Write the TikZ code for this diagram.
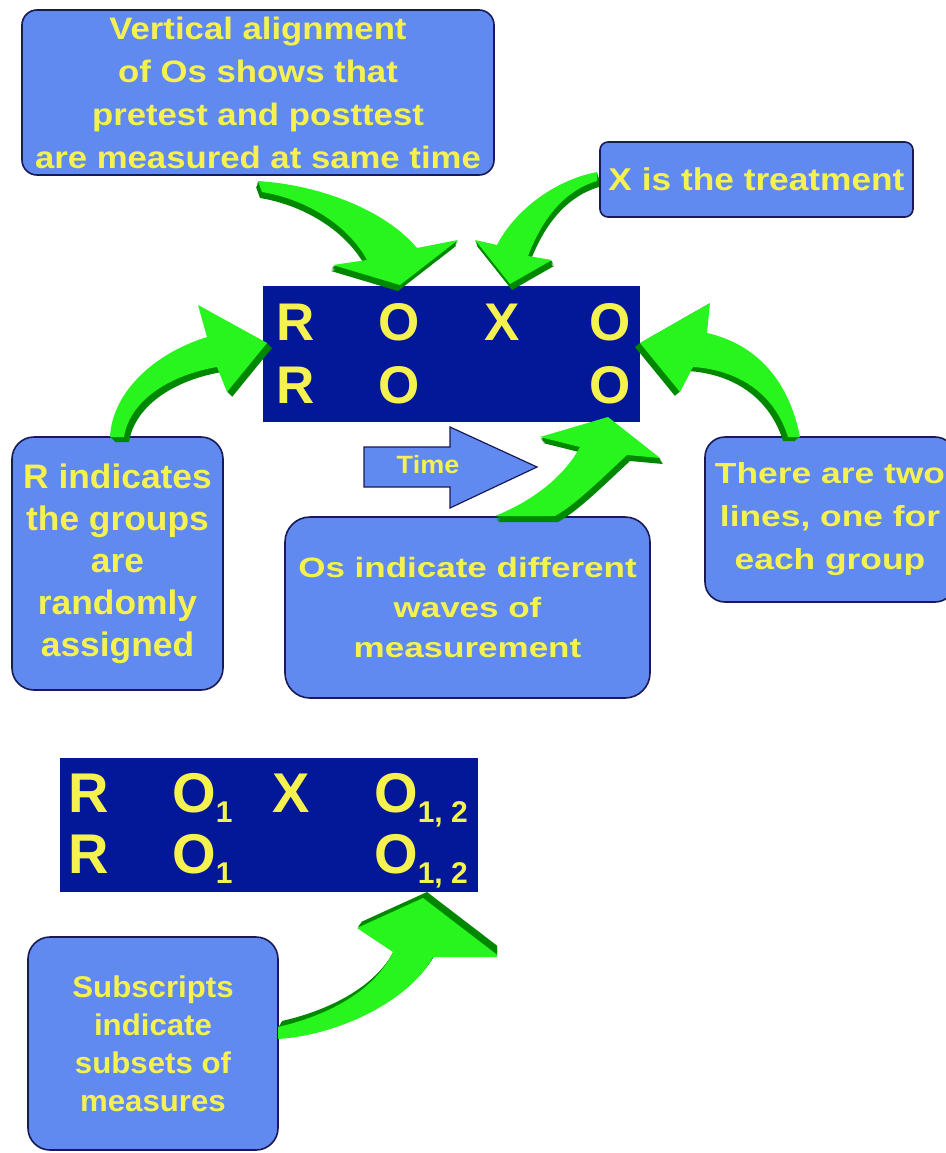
\documentclass[tikz,border=0pt]{standalone}
\usepackage{fontspec}
\setmainfont{Liberation Sans}
\newfontfamily\fTop{Liberation Sans}[FakeStretch=1.12]
\newfontfamily\fLeft{Liberation Sans}[FakeStretch=1.04]
\newfontfamily\fMid{Liberation Sans}[FakeStretch=1.25]
\newfontfamily\fRight{Liberation Sans}[FakeStretch=1.22]
\newfontfamily\fSub{Liberation Sans}[FakeStretch=1.04]
\newfontfamily\fTime{Liberation Sans}[FakeStretch=1.08]

\definecolor{boxfill}{RGB}{96,138,240}
\definecolor{boxline}{RGB}{25,25,85}
\definecolor{navy}{RGB}{3,24,152}
\definecolor{txt}{RGB}{245,242,80}
\definecolor{glight}{RGB}{40,245,30}
\definecolor{gdark}{RGB}{0,135,0}

% curved green block arrow with a dark extruded side
% #1,#2: direction of the extrusion, #3: outline of the arrow
\newcommand\bentarrow[3]{%
  \foreach \k in {0.2,0.4,0.6,0.8,1}{%
    \fill[gdark, shift={({\k*(#1)},{\k*(#2)})}] #3;}%
  \fill[glight] #3;}

\tikzset{
  callout/.style={draw=boxline, line width=1.6pt, fill=boxfill,
    rounded corners=#1, inner sep=0pt, text=txt, align=center},
  callout/.default=15pt,
  grid/.style={fill=navy, inner sep=0pt},
  letter/.style={text=txt, inner sep=0pt,
    font={\bfseries\fontsize{53pt}{53pt}\selectfont}},
  letterb/.style={text=txt, inner sep=0pt, anchor=base west,
    font={\bfseries\fontsize{56pt}{56pt}\selectfont}},
}
\newcommand\sub[1]{\raisebox{-10pt}{\fontsize{30pt}{30pt}\selectfont #1}}

\begin{document}
\begin{tikzpicture}[x=1pt,y=-1pt]
\useasboundingbox (0,0) rectangle (945,1153);
\fill[white] (0,0) rectangle (945,1153);

% ---------- upper design ----------
\node[grid, minimum width=377pt, minimum height=136pt] (design) at (451.5,354) {};
\node[letter, anchor=base] (r1) at (296,340) {R};
\node[letter, anchor=base] (o1) at (399,340) {O};
\node[letter, anchor=base] (x1) at (502,340) {X};
\node[letter, anchor=base] (o2) at (610,340) {O};
\node[letter, anchor=base] (r2) at (296,403) {R};
\node[letter, anchor=base] (o3) at (399,403) {O};
\node[letter, anchor=base] (o4) at (610,403) {O};

% ---------- callouts ----------
\node[callout=15pt, minimum width=472pt, minimum height=165pt,
  font={\fTop\bfseries\fontsize{31pt}{43pt}\selectfont}] (vert) at (258,92.5)
  {Vertical alignment\\of Os shows that\\pretest and posttest\\are measured at same time};

\node[callout=8pt, minimum width=313pt, minimum height=75pt,
  font={\fTop\bfseries\fontsize{31.5pt}{40pt}\selectfont}] (treat) at (756.5,179.5)
  {X is the treatment};

\node[callout=22pt, minimum width=211pt, minimum height=253pt,
  font={\fLeft\bfseries\fontsize{34pt}{42pt}\selectfont}] (rand) at (117.5,563.5)
  {R indicates\\the groups\\are\\randomly\\assigned};

\node[callout=25pt, minimum width=365pt, minimum height=181pt,
  font={\fMid\bfseries\fontsize{28pt}{40pt}\selectfont}] (waves) at (467.5,607.5)
  {Os indicate different\\waves of\\measurement};

\node[callout=20pt, minimum width=250pt, minimum height=165pt,
  font={\fRight\bfseries\fontsize{29pt}{43pt}\selectfont}] (lines) at (830,519.5)
  {There are two\\lines, one for\\each group};

% ---------- time arrow ----------
\draw[fill=boxfill, draw=boxline, line width=1.2pt]
  (364,447) -- (450,447) -- (450,427) -- (537,467) -- (450,508)
  -- (450,487) -- (364,487) -- cycle;
\node[text=txt, inner sep=0pt, font={\fTime\bfseries\fontsize{25pt}{25pt}\selectfont}]
  (time) at (428,465) {Time};

% ---------- green arrows ----------
% alignment callout -> pretest column
\bentarrow{-2}{6}{(258,181) .. controls (320,185) and (385,210) .. (417,248)
  -- (458,240) -- (400,285) -- (333,265) -- (367,260)
  .. controls (350,228) and (310,200) .. (262,192) -- cycle}
% treatment callout -> X
\bentarrow{2}{6}{(597,172) .. controls (555,180) and (515,210) .. (497,245)
  -- (475,240) -- (510,284) -- (552,260) -- (528,256)
  .. controls (540,225) and (560,192) .. (597,181) -- cycle}
% random assignment callout -> R
\bentarrow{5}{5}{(110,437) .. controls (112,395) and (150,355) .. (207,337)
  -- (198,305) -- (267,343) -- (227,392) -- (217,367)
  .. controls (170,375) and (130,400) .. (124,437) -- cycle}
% two lines callout -> right edge
\bentarrow{-5}{4}{(800,437) .. controls (790,385) and (760,345) .. (707,333)
  -- (710,303) -- (640,343) -- (680,392) -- (693,367)
  .. controls (740,370) and (775,395) .. (788,437) -- cycle}
% waves callout -> posttest column
\bentarrow{3}{6}{(495,516) .. controls (535,500) and (565,475) .. (580,447)
  -- (540,437) -- (608,417) -- (660,458) -- (627,455)
  .. controls (600,480) and (575,505) .. (555,516) -- cycle}

% ---------- lower design with subscripts ----------
\node[grid, minimum width=418pt, minimum height=134pt] (design2) at (269,825) {};
\node[letterb] (rb1) at (68,812) {R};
\node[letterb] (ob1) at (172,812) {O\sub{1}};
\node[letterb] (xb1) at (272,812) {X};
\node[letterb] (ob2) at (374,812) {O\sub{1, 2}};
\node[letterb] (rb2) at (68,873) {R};
\node[letterb] (ob3) at (172,873) {O\sub{1}};
\node[letterb] (ob4) at (374,873) {O\sub{1, 2}};

\node[callout=22pt, minimum width=250pt, minimum height=213pt,
  font={\fSub\bfseries\fontsize{30pt}{38pt}\selectfont}] (subs) at (153,1043.5)
  {Subscripts\\indicate\\subsets of\\measures};

\begin{scope}
\clip (0,880) rectangle (497,1153);
\bentarrow{4}{-6}{(278,1027) .. controls (330,1015) and (375,990) .. (393,952)
  -- (357,928) -- (423,898) -- (500,957) -- (433,957)
  .. controls (410,1000) and (340,1035) .. (278,1039) -- cycle}
\end{scope}
\end{tikzpicture}
\end{document}
